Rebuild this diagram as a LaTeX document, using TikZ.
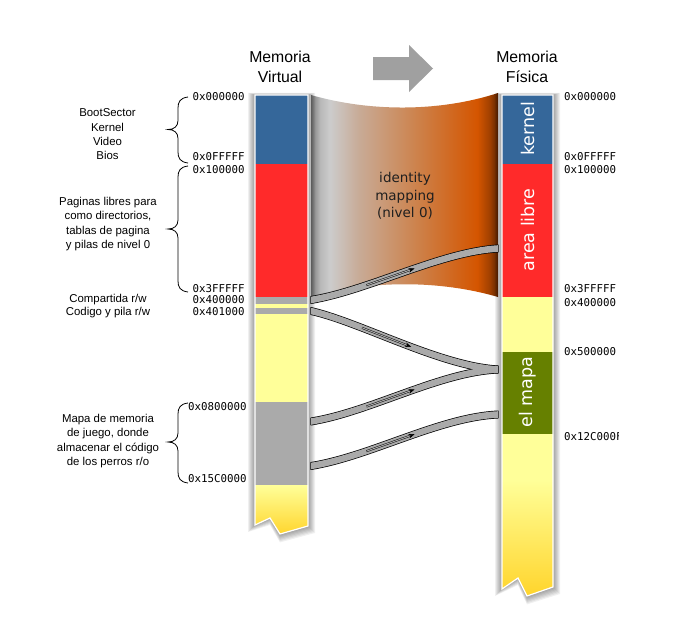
\documentclass[tikz,border=0pt]{standalone}
\usepackage{fontspec}
\setmainfont{Liberation Sans}
\newfontfamily\dejavu{DejaVu Sans}
\newfontfamily\dmono{DejaVu Sans Mono}
\usetikzlibrary{arrows.meta}
\definecolor{blueM}{HTML}{35679A}
\definecolor{redM}{HTML}{FF2A2A}
\definecolor{grayM}{HTML}{AAAAAA}
\definecolor{yelM}{HTML}{FFFF99}
\definecolor{yelD}{HTML}{FFD42A}
\definecolor{greenM}{HTML}{668000}
\definecolor{arrowG}{HTML}{A0A0A0}
\definecolor{bA}{HTML}{7A7A7A}
\definecolor{bB}{HTML}{B8B8B8}
\definecolor{bC}{HTML}{CCCCCC}
\definecolor{bD}{HTML}{C8AB97}
\definecolor{bE}{HTML}{CD8048}
\definecolor{bF}{HTML}{D45500}
\definecolor{bG}{HTML}{A04000}
\definecolor{bH}{HTML}{5A2400}
\pgfdeclarehorizontalshading{bandshade}{100bp}{color(0bp)=(bA); color(25bp)=(bA); color(27.4bp)=(bB); color(30bp)=(bC); color(37.7bp)=(bD); color(54bp)=(bE); color(69.5bp)=(bF); color(72.8bp)=(bG); color(75bp)=(bH); color(100bp)=(bH)}
\newcommand\ribbonshape[6]{(311,#1-3.3) .. controls (#2,#3-3.3) and (#4,#5-3.3) .. (498,#6-3.3) -- (498,#6+3.3) .. controls (#4,#5+3.3) and (#2,#3+3.3) .. (311,#1+3.3) -- cycle}
\newcommand\bracepath[3]{(188,#1) .. controls (180,#1+1) and (178,#1+5) .. (178,#1+11) -- (178,#2-9) .. controls (178,#2-3) and (174,#2) .. (168,#2) .. controls (174,#2) and (178,#2+3) .. (178,#2+9) -- (178,#3-11) .. controls (178,#3-5) and (180,#3-1) .. (188,#3)}
\newcommand\leftcol{(255,95) -- (308,95) -- (308,526) -- (280,534) -- (270,518) -- (255,525) -- cycle}
\newcommand\rightcol{(502,95) -- (553,95) -- (553,587) -- (527,596) -- (518,578) -- (502,589) -- cycle}
\tikzset{
  sidetext/.style={align=center, font=\fontsize{11.4}{14.3}\selectfont},
  titletext/.style={align=center, font=\fontsize{15.8}{20}\selectfont},
  addr/.style={anchor=west, inner sep=0pt, font=\dmono\fontsize{10.8}{12}\selectfont},
  seglabel/.style={rotate=90, text=white, font=\dejavu\fontsize{17.5}{20}\selectfont},
  bracestyle/.style={draw=black, line width=0.8pt},
  ribbonedge/.style={draw=black, fill=black, line width=1.4pt, line join=round},
  ribbonfill/.style={fill=grayM},
  maparrow/.style={draw=black, line width=0.45pt, double=grayM, double distance=1pt, -{Stealth[length=6pt,width=4.5pt]}},
  colshadow/.style={fill=black, opacity=0.06},
  colborder/.style={draw=white, line width=1.2pt, line join=miter}
}
\begin{document}
\begin{tikzpicture}[x=1pt, y=-1pt]
\useasboundingbox (0,0) rectangle (675,632);
\fill[white] (0,0) rectangle (675,632);

% identity mapping band
\shade[shading=bandshade] (311,95) .. controls (370,112) and (440,112) .. (498,93) -- (498,297) .. controls (440,280) and (370,280) .. (311,297) -- cycle;

% column shadows
\foreach \k in {1,...,7}{
  \fill[colshadow] (255-\k,95-0.3*\k) -- (308+\k,95-0.3*\k) -- (308+\k,526+\k) -- (280,534+1.2*\k) -- (270,518+\k) -- (255-\k,525+\k) -- cycle;
  \fill[colshadow] (502-\k,95-0.3*\k) -- (553+\k,95-0.3*\k) -- (553+\k,587+\k) -- (527,596+1.2*\k) -- (518,578+\k) -- (502-\k,589+\k) -- cycle;
}

% left column
\begin{scope}
\clip \leftcol;
\fill[blueM] (250,90) rectangle (312,164);
\fill[redM] (250,164) rectangle (312,297);
\fill[grayM] (250,297) rectangle (312,304);
\fill[yelM] (250,304) rectangle (312,308);
\fill[grayM] (250,308) rectangle (312,314);
\fill[yelM] (250,314) rectangle (312,402);
\fill[grayM] (250,402) rectangle (312,485);
\shade[top color=yelM, bottom color=yelD] (250,485) rectangle (312,536);
\end{scope}
\draw[colborder] \leftcol;

% right column
\begin{scope}
\clip \rightcol;
\fill[blueM] (498,90) rectangle (558,164);
\fill[redM] (498,164) rectangle (558,297);
\fill[yelM] (498,297) rectangle (558,352);
\fill[greenM] (498,352) rectangle (558,434);
\fill[yelM] (498,434) rectangle (558,480);
\shade[top color=yelM, bottom color=yelD] (498,480) rectangle (558,598);
\end{scope}
\draw[colborder] \rightcol;

% ribbons
\draw[ribbonedge] \ribbonshape{300}{370}{290}{440}{252}{248.5};
\draw[ribbonedge] \ribbonshape{311}{360}{322}{440}{366}{369.5};
\draw[ribbonedge] \ribbonshape{421.5}{370}{412}{440}{372}{369.5};
\draw[ribbonedge] \ribbonshape{466}{370}{456.5}{440}{417}{414.5};
\fill[ribbonfill] \ribbonshape{300}{370}{290}{440}{252}{248.5};
\fill[ribbonfill] \ribbonshape{311}{360}{322}{440}{366}{369.5};
\fill[ribbonfill] \ribbonshape{421.5}{370}{412}{440}{372}{369.5};
\fill[ribbonfill] \ribbonshape{466}{370}{456.5}{440}{417}{414.5};

\path (311,300) .. controls (370,290) and (440,252) .. (498,248.5) coordinate[pos=0.3] (a1) coordinate[pos=0.55] (b1);
\path (311,311) .. controls (360,322) and (440,366) .. (498,369.5) coordinate[pos=0.3] (a2) coordinate[pos=0.55] (b2);
\path (311,421.5) .. controls (370,412) and (440,372) .. (498,369.5) coordinate[pos=0.3] (a3) coordinate[pos=0.55] (b3);
\path (311,466) .. controls (370,456.5) and (440,417) .. (498,414.5) coordinate[pos=0.3] (a4) coordinate[pos=0.55] (b4);
\draw[maparrow] (a1) -- (b1);
\draw[maparrow] (a2) -- (b2);
\draw[maparrow] (a3) -- (b3);
\draw[maparrow] (a4) -- (b4);

% big arrow
\fill[arrowG] (373,57) -- (409,57) -- (409,45) -- (433,68.5) -- (409,92) -- (409,80) -- (373,80) -- cycle;

% titles
\node[titletext] (tv) at (280,67) {Memoria\\Virtual};
\node[titletext] (tf) at (527,67) {Memoria\\Física};

% segment labels
\node[seglabel] (lk) at (527.5,129) {kernel};
\node[seglabel] (la) at (527.5,230) {area libre};
\node[seglabel] (lm) at (527.5,392) {el mapa};
\node[align=center, text=black!88, font=\dejavu\fontsize{13.5}{17.5}\selectfont] (idm) at (405,196) {identity\\mapping\\(nivel 0)};

% braces
\draw[bracestyle] \bracepath{97}{129.5}{163};
\draw[bracestyle] \bracepath{166}{229}{292};
\draw[bracestyle] \bracepath{403}{442}{483};

% side texts
\node[sidetext] (t1) at (107.5,134.5) {BootSector\\Kernel\\Video\\Bios};
\node[sidetext] (t2) at (108,224) {Paginas libres para\\como directorios,\\tablas de pagina\\y pilas de nivel 0};
\node[sidetext] (t3) at (108,300) {Compartida r/w};
\node[sidetext] (t4) at (108,313) {Codigo y pila r/w};
\node[sidetext] (t5) at (108,441) {Mapa de memoria\\de juego, donde\\almacenar el código\\de los perros r/o};

% left addresses
\node[addr] (l1) at (192.5,97) {0x000000};
\node[addr] (l2) at (192.5,157) {0x0FFFFF};
\node[addr] (l3) at (192.5,170) {0x100000};
\node[addr] (l4) at (192.5,289) {0x3FFFFF};
\node[addr] (l5) at (192.5,299.5) {0x400000};
\node[addr] (l6) at (192.5,312) {0x401000};
\node[addr] (l7) at (188,407) {0x0800000};
\node[addr] (l8) at (188,479) {0x15C0000};

% right addresses
\node[addr] (r1) at (564,97) {0x000000};
\node[addr] (r2) at (564,157) {0x0FFFFF};
\node[addr] (r3) at (564,170) {0x100000};
\node[addr] (r4) at (564,289) {0x3FFFFF};
\node[addr] (r5) at (564,302.5) {0x400000};
\node[addr] (r6) at (564,352) {0x500000};
\begin{scope}
\clip (560,425) rectangle (618.5,450);
\node[addr] (r7) at (564,437) {0x12C000F};
\end{scope}
\end{tikzpicture}
\end{document}
